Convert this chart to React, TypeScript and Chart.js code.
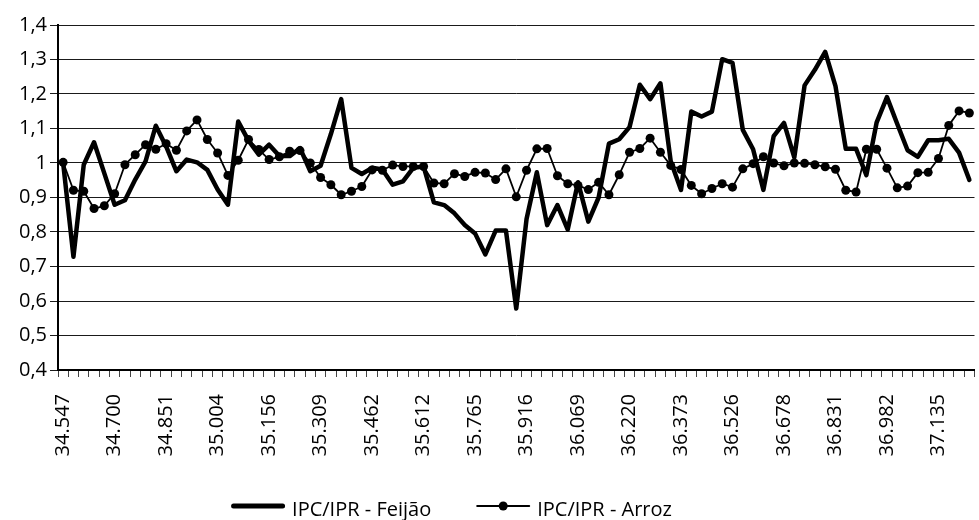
import React, { useEffect, useRef } from 'react';
import { Chart, registerables } from 'chart.js';

Chart.register(...registerables);

// Monthly dates (Excel serial numbers, shown with "." thousands separator)
const dates: string[] = [
  '34.547', '34.578', '34.608', '34.639', '34.669',
  '34.700', '34.731', '34.759', '34.790', '34.820',
  '34.851', '34.881', '34.912', '34.943', '34.973',
  '35.004', '35.034', '35.065', '35.096', '35.125',
  '35.156', '35.186', '35.217', '35.247', '35.278',
  '35.309', '35.339', '35.370', '35.400', '35.431',
  '35.462', '35.490', '35.521', '35.551', '35.582',
  '35.612', '35.643', '35.674', '35.704', '35.735',
  '35.765', '35.796', '35.827', '35.855', '35.886',
  '35.916', '35.947', '35.977', '36.008', '36.039',
  '36.069', '36.100', '36.130', '36.161', '36.192',
  '36.220', '36.251', '36.281', '36.312', '36.342',
  '36.373', '36.404', '36.434', '36.465', '36.495',
  '36.526', '36.557', '36.586', '36.617', '36.647',
  '36.678', '36.708', '36.739', '36.770', '36.800',
  '36.831', '36.861', '36.892', '36.923', '36.951',
  '36.982', '37.012', '37.043', '37.073', '37.104',
  '37.135', '37.165', '37.196', '37.226',
];

const feijao: number[] = [
  1.0, 0.728, 0.995, 1.06, 0.97, 0.879, 0.892, 0.952, 1.005, 1.108,
  1.048, 0.976, 1.01, 1.002, 0.98, 0.923, 0.879, 1.12, 1.065, 1.024,
  1.053, 1.02, 1.02, 1.043, 0.976, 0.992, 1.084, 1.185, 0.986, 0.968,
  0.986, 0.981, 0.937, 0.947, 0.986, 0.99, 0.886, 0.878, 0.854, 0.82,
  0.796, 0.735, 0.804, 0.804, 0.578, 0.838, 0.973, 0.82, 0.878, 0.807,
  0.944, 0.83, 0.9, 1.056, 1.069, 1.104, 1.227, 1.185, 1.231, 1.005,
  0.922, 1.149, 1.135, 1.149, 1.301, 1.29, 1.096, 1.04, 0.922, 1.078,
  1.116, 1.016, 1.225, 1.27, 1.322, 1.223, 1.041, 1.041, 0.965, 1.118,
  1.191, 1.113, 1.037, 1.018, 1.066, 1.066, 1.07, 1.03, 0.951,
];

const arroz: number[] = [
  1.002, 0.921, 0.918, 0.868, 0.876, 0.911, 0.995, 1.024, 1.053, 1.04,
  1.056, 1.037, 1.093, 1.125, 1.068, 1.029, 0.964, 1.008, 1.068, 1.039,
  1.01, 1.018, 1.034, 1.036, 1.0, 0.958, 0.937, 0.908, 0.918, 0.932,
  0.98, 0.979, 0.994, 0.99, 0.99, 0.99, 0.942, 0.94, 0.969, 0.961,
  0.973, 0.971, 0.952, 0.983, 0.902, 0.979, 1.041, 1.042, 0.963, 0.94,
  0.935, 0.923, 0.944, 0.908, 0.966, 1.031, 1.042, 1.072, 1.031, 0.993,
  0.981, 0.935, 0.911, 0.926, 0.94, 0.93, 0.983, 0.998, 1.018, 1.0,
  0.992, 1.0, 0.999, 0.995, 0.989, 0.982, 0.921, 0.916, 1.04, 1.04,
  0.985, 0.928, 0.933, 0.972, 0.973, 1.013, 1.109, 1.151, 1.145,
];

const seriesNames: string[] = ['IPC/IPR - Feijão', 'IPC/IPR - Arroz'];

const Y_MIN = 0.4;
const Y_MAX = 1.4;
const Y_STEP = 0.1;
const LABEL_EVERY = 5;

const FONT = '"Open Sans", "Noto Sans", sans-serif';

const legendPlugin = {
  id: 'excelLegend',
  afterDraw(chart: any) {
    const ctx = chart.ctx as CanvasRenderingContext2D;
    ctx.save();
    ctx.font = `20px ${FONT}`;
    ctx.fillStyle = '#000';
    ctx.strokeStyle = '#000';
    ctx.textBaseline = 'alphabetic';
    const lineY = 506;
    const textY = 516;
    const sample = 54;
    const gapText = 7;
    const gapItem = 45;
    const ds = chart.data.datasets;
    const widths = ds.map((d: any) => ctx.measureText(d.label).width);
    const total =
      ds.length * (sample + gapText) +
      widths.reduce((a: number, b: number) => a + b, 0) +
      gapItem * (ds.length - 1);
    let x = 451.5 - total / 2;
    ds.forEach((d: any, i: number) => {
      ctx.lineWidth = d.legendLineWidth;
      ctx.lineCap = 'round';
      ctx.beginPath();
      ctx.moveTo(x + d.legendLineWidth / 2, lineY);
      ctx.lineTo(x + sample - d.legendLineWidth / 2, lineY);
      ctx.stroke();
      if (d.pointRadius > 0) {
        ctx.beginPath();
        ctx.arc(x + sample / 2, lineY, d.pointRadius, 0, Math.PI * 2);
        ctx.fill();
      }
      ctx.fillText(d.label, x + sample + gapText, textY);
      x += sample + gapText + widths[i] + gapItem;
    });
    ctx.restore();
  },
};

export default function App() {
  const ref = useRef<HTMLCanvasElement | null>(null);

  useEffect(() => {
    if (!ref.current) return;
    const chart = new Chart(ref.current, {
      type: 'line',
      data: {
        labels: dates,
        datasets: [
          {
            label: seriesNames[0],
            data: feijao,
            borderColor: '#000',
            backgroundColor: '#000',
            borderWidth: 4.5,
            borderJoinStyle: 'round',
            borderCapStyle: 'round',
            pointRadius: 0,
            pointHoverRadius: 0,
            tension: 0,
            fill: false,
            order: 1,
            legendLineWidth: 5,
          } as any,
          {
            label: seriesNames[1],
            data: arroz,
            borderColor: '#000',
            backgroundColor: '#000',
            borderWidth: 1.8,
            borderJoinStyle: 'round',
            pointRadius: 4.5,
            pointBorderWidth: 0,
            pointBackgroundColor: '#000',
            pointStyle: 'circle',
            tension: 0,
            fill: false,
            order: 0,
            legendLineWidth: 2,
          } as any,
        ],
      },
      options: {
        responsive: false,
        animation: false,
        events: [],
        layout: { padding: { top: 25, right: 1, left: 0, bottom: 0 } },
        plugins: {
          legend: { display: false },
          tooltip: { enabled: false },
          title: { display: false },
        },
        scales: {
          x: {
            type: 'category',
            offset: true,
            grid: {
              offset: true,
              drawOnChartArea: false,
              drawTicks: true,
              tickLength: 7,
              color: '#444',
              lineWidth: 1,
            },
            border: { display: true, color: '#000', width: 2 },
            ticks: {
              autoSkip: false,
              minRotation: 90,
              maxRotation: 90,
              padding: 17,
              color: '#000',
              font: { family: FONT, size: 20 },
              callback: (_v: any, i: number) => (i % LABEL_EVERY === 0 ? dates[i] : ''),
            },
            afterFit: (scale: any) => {
              scale.height = 150;
              scale.paddingLeft = 0;
              scale.paddingRight = 0;
            },
          },
          y: {
            min: Y_MIN,
            max: Y_MAX,
            grid: {
              color: '#1a1a1a',
              lineWidth: 1,
              drawTicks: true,
              tickLength: 8,
            },
            border: { display: true, color: '#000', width: 2 },
            ticks: {
              stepSize: Y_STEP,
              padding: 3,
              color: '#000',
              font: { family: FONT, size: 20 },
              callback: (v: any) => {
                const n = Math.round(Number(v) * 10) / 10;
                return Number.isInteger(n) ? String(n) : n.toFixed(1).replace('.', ',');
              },
            },
            afterFit: (scale: any) => {
              scale.width = 58;
              scale.paddingTop = 0;
              scale.paddingBottom = 0;
            },
          },
        },
      },
      plugins: [legendPlugin],
    });
    return () => chart.destroy();
  }, []);

  return (
    <div
      style={{
        position: 'fixed',
        left: 0,
        top: 0,
        width: 979,
        height: 520,
        background: '#fff',
        overflow: 'hidden',
      }}
    >
      <canvas ref={ref} width={979} height={520} style={{ display: 'block' }} />
    </div>
  );
}
